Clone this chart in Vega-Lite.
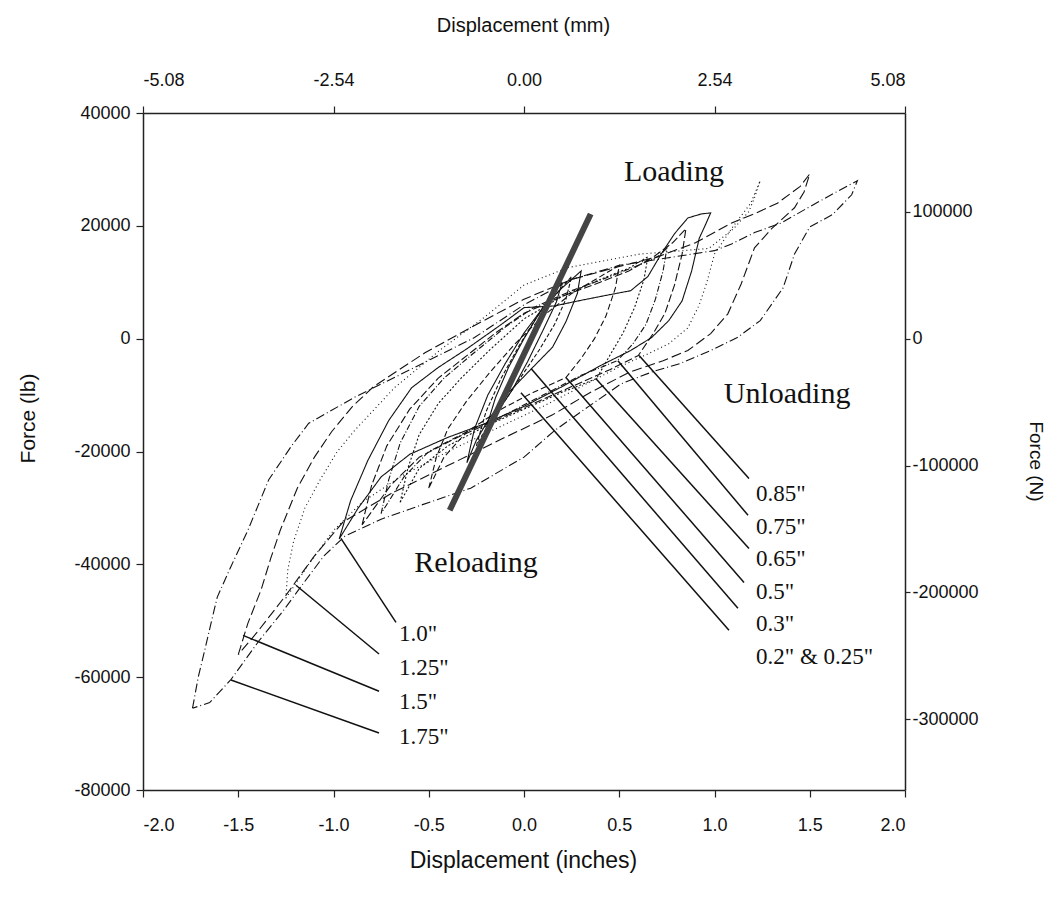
{
"$schema": "https://vega.github.io/schema/vega-lite/v6.json",
"width": 762, "height": 677,
"autosize": {"type": "none"},
"padding": {"left": 143, "top": 113, "right": 144, "bottom": 115},
"background": "white",
"config": {"view": {"stroke": null}, "locale": {"number": {"decimal": ".", "thousands": ",", "grouping": [3], "currency": ["$", ""], "minus": "-"}}, "axis": {"grid": false, "domainColor": "#222", "tickColor": "#222", "labelColor": "#111", "titleColor": "#111", "labelFont": "Liberation Sans Narrow, Liberation Sans", "titleFont": "Liberation Sans", "titleFontWeight": "normal", "labelFontSize": 18, "tickSize": 7, "domainWidth": 1.5, "tickWidth": 1.2, "labelExpr": "replace(datum.label, '\u2212', '-')"}},
"datasets": {
"curves": [
{"s":"1.75","i":1,"x":-1.74,"y":-65500},{"s":"1.75","i":2,"x":-1.71,"y":-60000},{"s":"1.75","i":3,"x":-1.68,"y":-55800},{"s":"1.75","i":4,"x":-1.64,"y":-50000},{"s":"1.75","i":5,"x":-1.61,"y":-45800},{"s":"1.75","i":6,"x":-1.54,"y":-40500},{"s":"1.75","i":7,"x":-1.45,"y":-34000},{"s":"1.75","i":8,"x":-1.34,"y":-25000},{"s":"1.75","i":9,"x":-1.22,"y":-19000},{"s":"1.75","i":10,"x":-1.13,"y":-15000},{"s":"1.75","i":11,"x":-0.89,"y":-10400},{"s":"1.75","i":12,"x":-0.61,"y":-5700},{"s":"1.75","i":13,"x":-0.26,"y":200},{"s":"1.75","i":14,"x":0,"y":6000},{"s":"1.75","i":15,"x":0.25,"y":10500},{"s":"1.75","i":16,"x":0.5,"y":13000},{"s":"1.75","i":17,"x":0.75,"y":14300},{"s":"1.75","i":18,"x":1.0,"y":15600},{"s":"1.75","i":19,"x":1.09,"y":16800},{"s":"1.75","i":20,"x":1.21,"y":18800},{"s":"1.75","i":21,"x":1.35,"y":20500},{"s":"1.75","i":22,"x":1.49,"y":23200},{"s":"1.75","i":23,"x":1.65,"y":26200},{"s":"1.75","i":24,"x":1.75,"y":28000},{"s":"1.75","i":25,"x":1.72,"y":25500},{"s":"1.75","i":26,"x":1.62,"y":22000},{"s":"1.75","i":27,"x":1.5,"y":19800},{"s":"1.75","i":28,"x":1.42,"y":15000},{"s":"1.75","i":29,"x":1.36,"y":9000},{"s":"1.75","i":30,"x":1.24,"y":3200},{"s":"1.75","i":31,"x":1.12,"y":200},{"s":"1.75","i":32,"x":0.98,"y":-2100},{"s":"1.75","i":33,"x":0.82,"y":-4400},{"s":"1.75","i":34,"x":0.68,"y":-5800},{"s":"1.75","i":35,"x":0.51,"y":-8000},{"s":"1.75","i":36,"x":0.34,"y":-12000},{"s":"1.75","i":37,"x":0.16,"y":-16300},{"s":"1.75","i":38,"x":0,"y":-21000},{"s":"1.75","i":39,"x":-0.28,"y":-26500},{"s":"1.75","i":40,"x":-0.54,"y":-29500},{"s":"1.75","i":41,"x":-0.75,"y":-32000},{"s":"1.75","i":42,"x":-0.94,"y":-35000},{"s":"1.75","i":43,"x":-1.05,"y":-38500},{"s":"1.75","i":44,"x":-1.15,"y":-43000},{"s":"1.75","i":45,"x":-1.27,"y":-48500},{"s":"1.75","i":46,"x":-1.39,"y":-53500},{"s":"1.75","i":47,"x":-1.54,"y":-60500},{"s":"1.75","i":48,"x":-1.65,"y":-64500},{"s":"1.75","i":49,"x":-1.74,"y":-65500},
{"s":"1.5","i":1,"x":-1.5,"y":-56000},{"s":"1.5","i":2,"x":-1.45,"y":-50500},{"s":"1.5","i":3,"x":-1.38,"y":-44500},{"s":"1.5","i":4,"x":-1.33,"y":-39000},{"s":"1.5","i":5,"x":-1.28,"y":-34000},{"s":"1.5","i":6,"x":-1.19,"y":-26500},{"s":"1.5","i":7,"x":-1.1,"y":-21000},{"s":"1.5","i":8,"x":-1.01,"y":-16500},{"s":"1.5","i":9,"x":-0.9,"y":-12000},{"s":"1.5","i":10,"x":-0.79,"y":-8500},{"s":"1.5","i":11,"x":-0.52,"y":-2500},{"s":"1.5","i":12,"x":-0.25,"y":2500},{"s":"1.5","i":13,"x":0,"y":7000},{"s":"1.5","i":14,"x":0.25,"y":10500},{"s":"1.5","i":15,"x":0.5,"y":12800},{"s":"1.5","i":16,"x":0.7,"y":14500},{"s":"1.5","i":17,"x":0.9,"y":17000},{"s":"1.5","i":18,"x":1.09,"y":20500},{"s":"1.5","i":19,"x":1.2,"y":22000},{"s":"1.5","i":20,"x":1.33,"y":24000},{"s":"1.5","i":21,"x":1.45,"y":27000},{"s":"1.5","i":22,"x":1.5,"y":29200},{"s":"1.5","i":23,"x":1.47,"y":26000},{"s":"1.5","i":24,"x":1.42,"y":23200},{"s":"1.5","i":25,"x":1.3,"y":19500},{"s":"1.5","i":26,"x":1.21,"y":16100},{"s":"1.5","i":27,"x":1.14,"y":9700},{"s":"1.5","i":28,"x":1.07,"y":4400},{"s":"1.5","i":29,"x":0.98,"y":900},{"s":"1.5","i":30,"x":0.86,"y":-2100},{"s":"1.5","i":31,"x":0.73,"y":-3900},{"s":"1.5","i":32,"x":0.55,"y":-6000},{"s":"1.5","i":33,"x":0.35,"y":-9500},{"s":"1.5","i":34,"x":0.15,"y":-13500},{"s":"1.5","i":35,"x":-0.1,"y":-17500},{"s":"1.5","i":36,"x":-0.4,"y":-22500},{"s":"1.5","i":37,"x":-0.7,"y":-27500},{"s":"1.5","i":38,"x":-0.95,"y":-32500},{"s":"1.5","i":39,"x":-1.1,"y":-38500},{"s":"1.5","i":40,"x":-1.25,"y":-45500},{"s":"1.5","i":41,"x":-1.4,"y":-52000},{"s":"1.5","i":42,"x":-1.5,"y":-56000},
{"s":"1.25","i":1,"x":-1.25,"y":-46000},{"s":"1.25","i":2,"x":-1.24,"y":-41000},{"s":"1.25","i":3,"x":-1.21,"y":-36000},{"s":"1.25","i":4,"x":-1.15,"y":-30000},{"s":"1.25","i":5,"x":-1.07,"y":-25000},{"s":"1.25","i":6,"x":-0.98,"y":-20000},{"s":"1.25","i":7,"x":-0.89,"y":-16300},{"s":"1.25","i":8,"x":-0.68,"y":-8700},{"s":"1.25","i":9,"x":-0.44,"y":-2000},{"s":"1.25","i":10,"x":-0.2,"y":4000},{"s":"1.25","i":11,"x":0,"y":9500},{"s":"1.25","i":12,"x":0.23,"y":12600},{"s":"1.25","i":13,"x":0.45,"y":14000},{"s":"1.25","i":14,"x":0.61,"y":15000},{"s":"1.25","i":15,"x":0.8,"y":15500},{"s":"1.25","i":16,"x":0.97,"y":16000},{"s":"1.25","i":17,"x":1.1,"y":19500},{"s":"1.25","i":18,"x":1.18,"y":22500},{"s":"1.25","i":19,"x":1.21,"y":25000},{"s":"1.25","i":20,"x":1.24,"y":28000},{"s":"1.25","i":21,"x":1.19,"y":24000},{"s":"1.25","i":22,"x":1.1,"y":20000},{"s":"1.25","i":23,"x":1.0,"y":15000},{"s":"1.25","i":24,"x":0.96,"y":10000},{"s":"1.25","i":25,"x":0.92,"y":6000},{"s":"1.25","i":26,"x":0.86,"y":1900},{"s":"1.25","i":27,"x":0.76,"y":-900},{"s":"1.25","i":28,"x":0.65,"y":-2700},{"s":"1.25","i":29,"x":0.5,"y":-5000},{"s":"1.25","i":30,"x":0.3,"y":-8500},{"s":"1.25","i":31,"x":0.1,"y":-12000},{"s":"1.25","i":32,"x":-0.15,"y":-16000},{"s":"1.25","i":33,"x":-0.4,"y":-20000},{"s":"1.25","i":34,"x":-0.65,"y":-24500},{"s":"1.25","i":35,"x":-0.85,"y":-29000},{"s":"1.25","i":36,"x":-1.0,"y":-34000},{"s":"1.25","i":37,"x":-1.12,"y":-39500},{"s":"1.25","i":38,"x":-1.25,"y":-46000},
{"s":"1.0","i":1,"x":-0.97,"y":-35500},{"s":"1.0","i":2,"x":-0.91,"y":-28700},{"s":"1.0","i":3,"x":-0.82,"y":-21600},{"s":"1.0","i":4,"x":-0.71,"y":-14500},{"s":"1.0","i":5,"x":-0.59,"y":-8700},{"s":"1.0","i":6,"x":-0.45,"y":-5100},{"s":"1.0","i":7,"x":-0.3,"y":-1800},{"s":"1.0","i":8,"x":-0.12,"y":2500},{"s":"1.0","i":9,"x":0,"y":5500},{"s":"1.0","i":10,"x":0.16,"y":5800},{"s":"1.0","i":11,"x":0.3,"y":6800},{"s":"1.0","i":12,"x":0.45,"y":7800},{"s":"1.0","i":13,"x":0.56,"y":8500},{"s":"1.0","i":14,"x":0.65,"y":11000},{"s":"1.0","i":15,"x":0.72,"y":15000},{"s":"1.0","i":16,"x":0.79,"y":18600},{"s":"1.0","i":17,"x":0.86,"y":21400},{"s":"1.0","i":18,"x":0.93,"y":22100},{"s":"1.0","i":19,"x":0.98,"y":22300},{"s":"1.0","i":20,"x":0.95,"y":20000},{"s":"1.0","i":21,"x":0.92,"y":17800},{"s":"1.0","i":22,"x":0.88,"y":12000},{"s":"1.0","i":23,"x":0.83,"y":6700},{"s":"1.0","i":24,"x":0.76,"y":3200},{"s":"1.0","i":25,"x":0.67,"y":200},{"s":"1.0","i":26,"x":0.56,"y":-2100},{"s":"1.0","i":27,"x":0.4,"y":-4800},{"s":"1.0","i":28,"x":0.2,"y":-8500},{"s":"1.0","i":29,"x":0,"y":-12000},{"s":"1.0","i":30,"x":-0.2,"y":-15000},{"s":"1.0","i":31,"x":-0.4,"y":-17500},{"s":"1.0","i":32,"x":-0.6,"y":-20500},{"s":"1.0","i":33,"x":-0.75,"y":-24500},{"s":"1.0","i":34,"x":-0.87,"y":-30000},{"s":"1.0","i":35,"x":-0.97,"y":-35500},
{"s":"0.85","i":1,"x":-0.85,"y":-33000},{"s":"0.85","i":2,"x":-0.8,"y":-26000},{"s":"0.85","i":3,"x":-0.72,"y":-19000},{"s":"0.85","i":4,"x":-0.6,"y":-12500},{"s":"0.85","i":5,"x":-0.45,"y":-7000},{"s":"0.85","i":6,"x":-0.3,"y":-3000},{"s":"0.85","i":7,"x":-0.15,"y":1000},{"s":"0.85","i":8,"x":0,"y":4500},{"s":"0.85","i":9,"x":0.2,"y":7500},{"s":"0.85","i":10,"x":0.4,"y":10000},{"s":"0.85","i":11,"x":0.55,"y":12000},{"s":"0.85","i":12,"x":0.68,"y":14500},{"s":"0.85","i":13,"x":0.78,"y":17000},{"s":"0.85","i":14,"x":0.85,"y":19500},{"s":"0.85","i":15,"x":0.83,"y":15000},{"s":"0.85","i":16,"x":0.79,"y":9500},{"s":"0.85","i":17,"x":0.74,"y":4500},{"s":"0.85","i":18,"x":0.68,"y":1000},{"s":"0.85","i":19,"x":0.6,"y":-3000},{"s":"0.85","i":20,"x":0.45,"y":-5500},{"s":"0.85","i":21,"x":0.25,"y":-8500},{"s":"0.85","i":22,"x":0.05,"y":-11500},{"s":"0.85","i":23,"x":-0.15,"y":-14500},{"s":"0.85","i":24,"x":-0.35,"y":-17500},{"s":"0.85","i":25,"x":-0.55,"y":-21000},{"s":"0.85","i":26,"x":-0.7,"y":-26000},{"s":"0.85","i":27,"x":-0.85,"y":-33000},
{"s":"0.75","i":1,"x":-0.75,"y":-31000},{"s":"0.75","i":2,"x":-0.71,"y":-25000},{"s":"0.75","i":3,"x":-0.65,"y":-18500},{"s":"0.75","i":4,"x":-0.55,"y":-12000},{"s":"0.75","i":5,"x":-0.42,"y":-7000},{"s":"0.75","i":6,"x":-0.28,"y":-3000},{"s":"0.75","i":7,"x":-0.1,"y":2000},{"s":"0.75","i":8,"x":0.05,"y":5500},{"s":"0.75","i":9,"x":0.25,"y":8500},{"s":"0.75","i":10,"x":0.45,"y":11000},{"s":"0.75","i":11,"x":0.6,"y":13000},{"s":"0.75","i":12,"x":0.7,"y":14500},{"s":"0.75","i":13,"x":0.75,"y":16000},{"s":"0.75","i":14,"x":0.73,"y":12000},{"s":"0.75","i":15,"x":0.69,"y":7000},{"s":"0.75","i":16,"x":0.64,"y":2500},{"s":"0.75","i":17,"x":0.57,"y":-1000},{"s":"0.75","i":18,"x":0.49,"y":-3900},{"s":"0.75","i":19,"x":0.3,"y":-6500},{"s":"0.75","i":20,"x":0.1,"y":-10000},{"s":"0.75","i":21,"x":-0.1,"y":-13500},{"s":"0.75","i":22,"x":-0.3,"y":-16500},{"s":"0.75","i":23,"x":-0.5,"y":-20000},{"s":"0.75","i":24,"x":-0.63,"y":-24500},{"s":"0.75","i":25,"x":-0.75,"y":-31000},
{"s":"0.65","i":1,"x":-0.65,"y":-29000},{"s":"0.65","i":2,"x":-0.61,"y":-23000},{"s":"0.65","i":3,"x":-0.55,"y":-17000},{"s":"0.65","i":4,"x":-0.45,"y":-11500},{"s":"0.65","i":5,"x":-0.33,"y":-7000},{"s":"0.65","i":6,"x":-0.18,"y":-2000},{"s":"0.65","i":7,"x":0,"y":3500},{"s":"0.65","i":8,"x":0.2,"y":7500},{"s":"0.65","i":9,"x":0.4,"y":10500},{"s":"0.65","i":10,"x":0.55,"y":12500},{"s":"0.65","i":11,"x":0.65,"y":14500},{"s":"0.65","i":12,"x":0.63,"y":10500},{"s":"0.65","i":13,"x":0.58,"y":5500},{"s":"0.65","i":14,"x":0.52,"y":1000},{"s":"0.65","i":15,"x":0.45,"y":-3000},{"s":"0.65","i":16,"x":0.38,"y":-7100},{"s":"0.65","i":17,"x":0.2,"y":-9500},{"s":"0.65","i":18,"x":0,"y":-12500},{"s":"0.65","i":19,"x":-0.2,"y":-15500},{"s":"0.65","i":20,"x":-0.4,"y":-19000},{"s":"0.65","i":21,"x":-0.55,"y":-23000},{"s":"0.65","i":22,"x":-0.65,"y":-29000},
{"s":"0.5","i":1,"x":-0.5,"y":-26500},{"s":"0.5","i":2,"x":-0.46,"y":-21000},{"s":"0.5","i":3,"x":-0.4,"y":-16000},{"s":"0.5","i":4,"x":-0.3,"y":-11000},{"s":"0.5","i":5,"x":-0.18,"y":-6000},{"s":"0.5","i":6,"x":-0.05,"y":-1000},{"s":"0.5","i":7,"x":0.1,"y":4000},{"s":"0.5","i":8,"x":0.25,"y":8000},{"s":"0.5","i":9,"x":0.4,"y":11000},{"s":"0.5","i":10,"x":0.5,"y":13000},{"s":"0.5","i":11,"x":0.48,"y":9000},{"s":"0.5","i":12,"x":0.43,"y":4000},{"s":"0.5","i":13,"x":0.37,"y":0},{"s":"0.5","i":14,"x":0.3,"y":-3500},{"s":"0.5","i":15,"x":0.22,"y":-6900},{"s":"0.5","i":16,"x":0.05,"y":-9500},{"s":"0.5","i":17,"x":-0.12,"y":-12500},{"s":"0.5","i":18,"x":-0.3,"y":-16500},{"s":"0.5","i":19,"x":-0.42,"y":-21000},{"s":"0.5","i":20,"x":-0.5,"y":-26500},
{"s":"0.3","i":1,"x":-0.3,"y":-22000},{"s":"0.3","i":2,"x":-0.26,"y":-16000},{"s":"0.3","i":3,"x":-0.19,"y":-10000},{"s":"0.3","i":4,"x":-0.1,"y":-4500},{"s":"0.3","i":5,"x":0,"y":1000},{"s":"0.3","i":6,"x":0.1,"y":5500},{"s":"0.3","i":7,"x":0.2,"y":9000},{"s":"0.3","i":8,"x":0.3,"y":12000},{"s":"0.3","i":9,"x":0.28,"y":8000},{"s":"0.3","i":10,"x":0.22,"y":3000},{"s":"0.3","i":11,"x":0.15,"y":-1500},{"s":"0.3","i":12,"x":0.04,"y":-5300},{"s":"0.3","i":13,"x":-0.08,"y":-9500},{"s":"0.3","i":14,"x":-0.18,"y":-14000},{"s":"0.3","i":15,"x":-0.25,"y":-18000},{"s":"0.3","i":16,"x":-0.3,"y":-22000},
{"s":"0.25","i":1,"x":-0.25,"y":-19000},{"s":"0.25","i":2,"x":-0.2,"y":-13000},{"s":"0.25","i":3,"x":-0.12,"y":-7000},{"s":"0.25","i":4,"x":-0.03,"y":-1500},{"s":"0.25","i":5,"x":0.07,"y":4000},{"s":"0.25","i":6,"x":0.17,"y":8000},{"s":"0.25","i":7,"x":0.25,"y":11000},{"s":"0.25","i":8,"x":0.22,"y":7000},{"s":"0.25","i":9,"x":0.16,"y":2500},{"s":"0.25","i":10,"x":0.08,"y":-2000},{"s":"0.25","i":11,"x":-0.02,"y":-7000},{"s":"0.25","i":12,"x":-0.12,"y":-12000},{"s":"0.25","i":13,"x":-0.2,"y":-16000},{"s":"0.25","i":14,"x":-0.25,"y":-19000},
{"s":"0.2","i":1,"x":-0.2,"y":-16000},{"s":"0.2","i":2,"x":-0.15,"y":-10500},{"s":"0.2","i":3,"x":-0.08,"y":-5000},{"s":"0.2","i":4,"x":0,"y":0},{"s":"0.2","i":5,"x":0.08,"y":4500},{"s":"0.2","i":6,"x":0.15,"y":8000},{"s":"0.2","i":7,"x":0.2,"y":10000},{"s":"0.2","i":8,"x":0.17,"y":6500},{"s":"0.2","i":9,"x":0.1,"y":1500},{"s":"0.2","i":10,"x":0.02,"y":-4000},{"s":"0.2","i":11,"x":-0.06,"y":-9000},{"s":"0.2","i":12,"x":-0.14,"y":-13000},{"s":"0.2","i":13,"x":-0.2,"y":-16000}
],
"gray": [{"x":-0.39,"y":-30400},{"x":0.35,"y":22100}],
"leaders": [
{"x":0.604,"y":-3000,"x2":1.181,"y2":-24800},
{"x":0.493,"y":-3900,"x2":1.176,"y2":-31300},
{"x":0.378,"y":-7100,"x2":1.181,"y2":-37200},
{"x":0.22,"y":-6900,"x2":1.155,"y2":-43200},
{"x":0.037,"y":-5300,"x2":1.123,"y2":-47800},
{"x":-0.016,"y":-9600,"x2":1.076,"y2":-51700},
{"x":-0.961,"y":-35400,"x2":-0.672,"y2":-50300},
{"x":-1.197,"y":-43700,"x2":-0.761,"y2":-55900},
{"x":-1.475,"y":-52600,"x2":-0.761,"y2":-62500},
{"x":-1.538,"y":-60500,"x2":-0.761,"y2":-69900}
],
"small": [
{"x":1.218,"y":-27610,"t":"0.85\""},
{"x":1.218,"y":-33450,"t":"0.75\""},
{"x":1.218,"y":-39120,"t":"0.65\""},
{"x":1.218,"y":-44960,"t":"0.5\""},
{"x":1.218,"y":-50620,"t":"0.3\""},
{"x":1.218,"y":-56460,"t":"0.2\" & 0.25\""},
{"x":-0.656,"y":-52390,"t":"1.0\""},
{"x":-0.656,"y":-58410,"t":"1.25\""},
{"x":-0.656,"y":-64430,"t":"1.5\""},
{"x":-0.656,"y":-70620,"t":"1.75\""}
],
"big": [
{"x":0.787,"y":27970,"t":"Loading"},
{"x":1.381,"y":-11330,"t":"Unloading"},
{"x":-0.252,"y":-41420,"t":"Reloading"}
],
"mm": [{"xmm":-5.08,"n":-355840},{"xmm":5.08,"n":177920}]
},
"layer": [
{
"encoding": {
"x": {"field": "x", "type": "quantitative", "scale": {"domain": [-2, 2], "nice": false, "zero": false},
 "axis": {"orient": "bottom", "values": [-2,-1.5,-1,-0.5,0,0.5,1,1.5,2], "format": ".1f", "title": "Displacement (inches)", "labelPadding": 19, "titleFontSize": 23, "titleX": 380, "titleY": 70, "titleBaseline": "middle"}},
"y": {"field": "y", "type": "quantitative", "scale": {"domain": [-80000, 40000], "nice": false, "zero": false},
 "axis": {"orient": "left", "values": [-80000,-60000,-40000,-20000,0,20000,40000], "format": "d", "title": "Force (lb)", "labelPadding": 6, "titleFontSize": 21, "titleX": -115, "titleY": 305, "titleBaseline": "middle"}}
},
"layer": [
{"data": {"name": "curves"}, "mark": {"type": "line", "color": "#111", "strokeWidth": 1.1},
 "encoding": {"order": {"field": "i", "type": "quantitative"},
 "strokeDash": {"field": "s", "type": "nominal", "legend": null,
  "scale": {"domain": ["1.75","1.5","1.25","1.0","0.85","0.75","0.65","0.5","0.3","0.25","0.2"],
  "range": [[9,3,1,3],[10,4],[1,3],[1,0],[8,3],[6,2,1,2],[2,2],[6,3],[1,0],[4,2],[1,0]]}}}},
{"data": {"name": "gray"}, "mark": {"type": "line", "color": "#444", "strokeWidth": 6, "strokeCap": "butt"}, "encoding": {}},
{"data": {"name": "leaders"}, "mark": {"type": "rule", "color": "#111", "strokeWidth": 1.5},
 "encoding": {"x2": {"field": "x2"}, "y2": {"field": "y2"}}},
{"data": {"name": "small"}, "mark": {"type": "text", "font": "Liberation Serif", "fontSize": 23, "align": "left", "baseline": "middle", "color": "#111"},
 "encoding": {"text": {"field": "t"}}},
{"data": {"name": "big"}, "mark": {"type": "text", "font": "Liberation Serif", "fontSize": 30, "align": "center", "baseline": "alphabetic", "color": "#111"},
 "encoding": {"text": {"field": "t"}}}
]
},
{
"data": {"name": "mm"},
"mark": {"type": "point", "opacity": 0},
"encoding": {
"x": {"field": "xmm", "type": "quantitative", "scale": {"domain": [-5.08, 5.08], "nice": false, "zero": false},
 "axis": {"orient": "top", "values": [-5.08,-2.54,0,2.54,5.08], "format": ".2f", "title": "Displacement (mm)", "labelPadding": 17, "titleFontSize": 20, "titleX": 380, "titleY": -88, "titleBaseline": "middle"}},
"y": {"field": "n", "type": "quantitative", "scale": {"domain": [-355840, 177920], "nice": false, "zero": false},
 "axis": {"orient": "right", "values": [-300000,-200000,-100000,0,100000], "format": "d", "title": "Force (N)", "labelPadding": 2, "tickSize": 5, "titleFontSize": 19, "titleX": 130, "titleY": 348, "titleBaseline": "middle"}}
}
}
],
"resolve": {"scale": {"x": "independent", "y": "independent"}, "axis": {"x": "independent", "y": "independent"}}
}
